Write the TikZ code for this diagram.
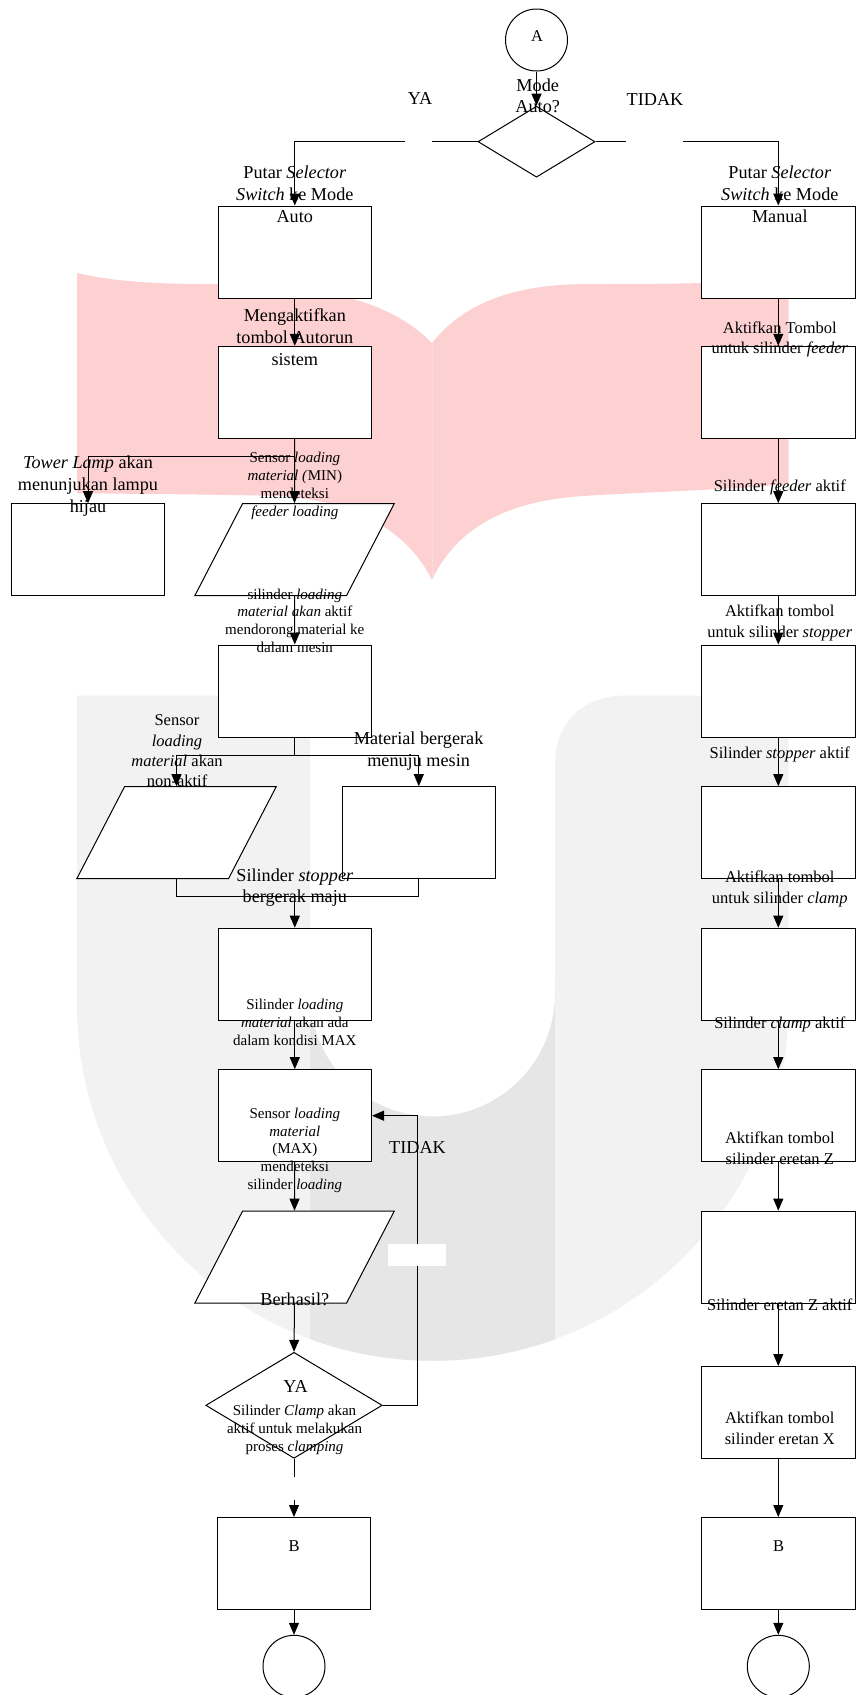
\documentclass[tikz,border=0pt]{standalone}
\usepackage{fontspec}
\setmainfont{Liberation Serif}
\usetikzlibrary{arrows.meta,shapes.geometric}
\definecolor{bookpink}{HTML}{FDD0D2}
\definecolor{bookline}{HTML}{FBDCDC}
\definecolor{ulight}{HTML}{F2F2F2}
\definecolor{udark}{HTML}{E6E6E6}
\tikzset{
  lw/.style={line width=1pt},
  stepbox/.style={lw,draw=black,fill=white,rectangle,minimum width=153.5pt,minimum height=92pt,inner sep=0pt},
  iobox/.style={lw,draw=black,fill=white,trapezium,trapezium left angle=63.43,trapezium right angle=116.57,trapezium stretches=true,minimum width=199.5pt,minimum height=92pt,inner sep=0pt},
  decide/.style={lw,draw=black,fill=white,diamond,inner sep=0pt},
  term/.style={lw,draw=black,fill=white,circle,minimum size=62pt,inner sep=0pt},
  flow/.style={lw,-{Triangle[length=12pt,width=10pt]}},
  plain/.style={lw},
  lab/.style={align=center,inner sep=0pt,yshift=-2pt,execute at begin node={\strut},execute at end node={\strut}},
  big/.style={lab,font=\fontsize{18.2}{22}\selectfont},
  bigt/.style={lab,font=\fontsize{18.2}{20.5}\selectfont},
  mid/.style={lab,font=\fontsize{16.5}{20.3}\selectfont},
  small/.style={lab,font=\fontsize{15}{17.8}\selectfont},
}
\begin{document}
\begin{tikzpicture}[x=1pt,y=-1pt]
\useasboundingbox (0,0) rectangle (857,1695);
% watermark
\fill[bookpink] (77,273) .. controls (115,282) and (160,284) .. (205,284)
  .. controls (290,284) and (380,290) .. (432,343)
  .. controls (470,295) and (530,284) .. (590,284)
  .. controls (650,284) and (720,284) .. (788.5,279)
  -- (788.5,483) .. controls (760,489) and (640,492) .. (583.5,496)
  .. controls (520,500) and (460,520) .. (432,580)
  .. controls (405,525) and (345,500) .. (280,496)
  .. controls (200,494) and (120,494) .. (77,493) -- cycle;
\draw[bookline,line width=1pt] (432,343) -- (432,578);
\def\ushape{(77,695.6) -- (290,695.6) .. controls (302,695.6) and (310,710) .. (310,730)
  -- (310,994) arc[start angle=180,end angle=0,radius=122.5]
  -- (555,765) .. controls (555,720) and (585,695.6) .. (625,695.6)
  -- (788.5,695.6) -- (788.5,1005) arc[start angle=0,end angle=180,radius=355.75] -- cycle}
\fill[ulight] \ushape;
\begin{scope}
  \clip (310,980) rectangle (555,1400);
  \fill[udark] \ushape;
\end{scope}
% start
\node[term] (a) at (536.5,40) {};
\node[decide,minimum width=117pt,minimum height=71pt] (d1) at (536.5,141.7) {};
% left column
\node[stepbox] (l1) at (294.8,252) {};
\node[stepbox] (l2) at (294.8,392.3) {};
\node[stepbox] (tower) at (88,549.7) {};
\node[iobox] (p1) at (294.5,549.7) {\phantom{x}};
\node[stepbox] (l3) at (294.8,691) {};
\node[iobox] (p2) at (176.5,832.7) {\phantom{x}};
\node[stepbox] (b4) at (418.8,832.7) {};
\node[stepbox] (l5) at (294.8,974.2) {};
\node[stepbox] (l6) at (294.8,1115.7) {};
\node[iobox] (p3) at (294.5,1257.2) {\phantom{x}};
\node[decide,minimum width=176.5pt,minimum height=106pt] (d2) at (294,1405.3) {};
\node[stepbox] (lb) at (294,1563.5) {};
\node[term] (le) at (294,1666.3) {};
% right column
\node[stepbox] (r1) at (778.3,252) {};
\node[stepbox] (r2) at (778.3,392.3) {};
\node[stepbox] (r3) at (778.3,549.7) {};
\node[stepbox] (r4) at (778.3,691) {};
\node[stepbox] (r5) at (778.3,832.7) {};
\node[stepbox] (r6) at (778.3,974.2) {};
\node[stepbox] (r7) at (778.3,1115.7) {};
\node[stepbox] (r8) at (778.3,1257.2) {};
\node[stepbox] (r9) at (778.3,1412.5) {};
\node[stepbox] (rb) at (778.3,1563.5) {};
\node[term] (re) at (778.3,1666.3) {};
% helper coordinates
\coordinate (yaR) at (432,141.7);
\coordinate (yaL) at (405,141.7);
\coordinate (noL) at (626,141.7);
\coordinate (noR) at (683,141.7);
\coordinate (branch) at (294.8,456);
\coordinate (split) at (294.8,755);
\coordinate (merge) at (294.8,896);
\coordinate (fb) at (417.5,1115.7);
\coordinate (ys) at (294,1476.7);
\coordinate (ye) at (294,1500);
% connectors
\draw[flow] (a) -- (d1);
\draw[plain] (d1.west) -- (yaR);
\draw[flow] (yaL) -| (l1.north);
\draw[plain] (d1.east) -- (noL);
\draw[flow] (noR) -| (r1.north);
\draw[flow] (l1) -- (l2);
\draw[flow] (l2) -- (p1.north);
\draw[flow] (branch) -| (tower.north);
\draw[flow] (p1.south) -- (l3.north);
\draw[plain] (l3) -- (split);
\draw[flow] (split) -| (p2.north);
\draw[flow] (split) -| (b4.north);
\draw[plain] (p2.south) |- (merge);
\draw[plain] (b4.south) |- (merge);
\draw[flow] (merge) -- (l5.north);
\draw[flow] (l5) -- (l6);
\draw[flow] (l6) -- (p3.north);
\draw[flow] (p3.south) -- (d2.north);
\draw[plain] (d2.south) -- (ys);
\draw[flow] (ye) -- (lb.north);
\draw[flow] (lb) -- (le);
\draw[flow] (d2.east) -| (fb) -- (l6.east);
\draw[flow] (r1) -- (r2);
\draw[flow] (r2) -- (r3);
\draw[flow] (r3) -- (r4);
\draw[flow] (r4) -- (r5);
\draw[flow] (r5) -- (r6);
\draw[flow] (r6) -- (r7);
\draw[flow] (r7) -- (r8);
\draw[flow] (r8) -- (r9);
\draw[flow] (r9) -- (rb);
\draw[flow] (rb) -- (re);
% white patch over the return line
\node[fill=white,inner sep=0pt,minimum width=58pt,minimum height=22pt] (mask) at (417,1255) {};
% labels
\node[mid] (ta) at (537,35) {A};
\node[bigt] (t1) at (537.7,97) {Mode\\Auto?};
\node[big] (t2) at (420,98) {YA};
\node[big] (t3) at (655,99.3) {TIDAK};
\node[big] (t4) at (294.8,195) {Putar \textit{Selector}\\\textit{Switch} ke Mode\\Auto};
\node[big] (t5) at (779.8,195) {Putar \textit{Selector}\\\textit{Switch} ke Mode\\Manual};
\node[big] (t6) at (294.8,338.3) {Mengaktifkan\\tombol Autorun\\sistem};
\node[mid] (t7) at (779.8,338.6) {Aktifkan Tombol\\untuk silinder \textit{feeder}};
\node[big] (t8) at (88,485) {\textit{Tower Lamp} akan\\menunjukan lampu\\hijau};
\node[small] (t9) at (294.8,484.8) {Sensor \textit{loading}\\\textit{material (}MIN)\\mendeteksi\\\textit{feeder loading}};
\node[small] (t10) at (294.8,621.3) {silinder \textit{loading}\\\textit{material akan} aktif\\mendorong material ke\\dalam mesin};
\node[mid] (t11) at (779.8,485) {Silinder \textit{feeder} aktif};
\node[mid] (t12) at (779.8,622.3) {Aktifkan tombol\\untuk silinder \textit{stopper}};
\node[mid] (t13) at (177,752) {Sensor\\\textit{loading}\\\textit{material} akan\\non-aktif};
\node[big] (t14) at (418.6,750.5) {Material bergerak\\menuju mesin};
\node[mid] (t15) at (779.8,752) {Silinder \textit{stopper} aktif};
\node[mid] (t16) at (779.8,888.3) {Aktifkan tombol\\untuk silinder \textit{clamp}};
\node[bigt] (t17) at (294.8,886.7) {Silinder \textit{stopper}\\bergerak maju};
\node[small] (t18) at (294.8,1023) {Silinder \textit{loading}\\\textit{material} akan ada\\dalam kondisi MAX};
\node[mid] (t19) at (779.8,1022.3) {Silinder \textit{clamp} aktif};
\node[small] (t20) at (294.8,1149.3) {Sensor \textit{loading}\\\textit{material}\\(MAX)\\mendeteksi\\silinder \textit{loading}};
\node[big] (t21) at (417.5,1147) {TIDAK};
\node[mid] (t22) at (779.8,1149.3) {Aktifkan tombol\\silinder eretan Z};
\node[big] (t23) at (294.8,1298.7) {Berhasil?};
\node[mid] (t24) at (779.8,1304) {Silinder eretan Z aktif};
\node[big] (t25) at (295.6,1386) {YA};
\node[small] (t26) at (294.5,1428.7) {Silinder \textit{Clamp} akan\\aktif untuk melakukan\\proses \textit{clamping}};
\node[mid] (t27) at (779.8,1429.2) {Aktifkan tombol\\silinder eretan X};
\node[mid] (t28) at (294,1545) {B};
\node[mid] (t29) at (778.7,1545) {B};
\end{tikzpicture}
\end{document}
